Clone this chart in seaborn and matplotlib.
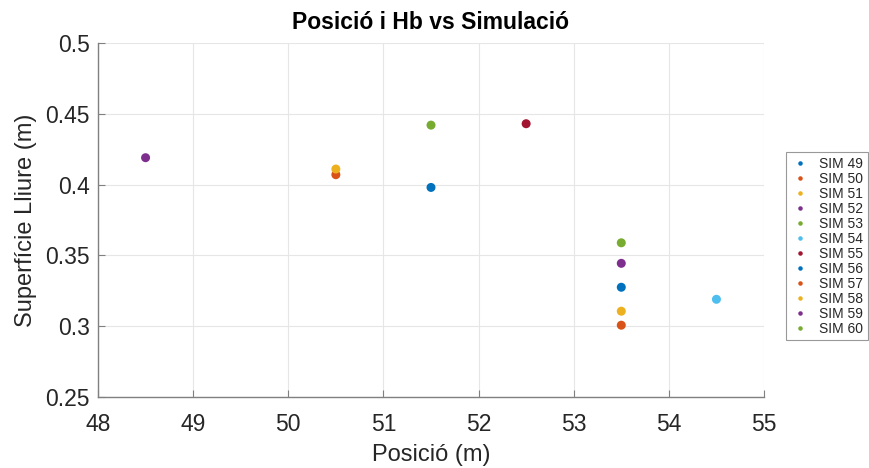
import pandas as pd
import matplotlib.pyplot as plt
import seaborn as sns

sims = ["SIM 49", "SIM 50", "SIM 51", "SIM 52", "SIM 53", "SIM 54",
        "SIM 55", "SIM 56", "SIM 57", "SIM 58", "SIM 59", "SIM 60"]
posicio = [51.5, 50.5, 50.5, 48.5, 51.5, 54.5, 52.5, 53.5, 53.5, 53.5, 53.5, 53.5]
superficie = [0.398, 0.407, 0.411, 0.419, 0.442, 0.319, 0.443,
              0.3275, 0.3007, 0.3106, 0.3444, 0.3589]

matlab_colors = ["#0072BD", "#D95319", "#EDB120", "#7E2F8E", "#77AC30", "#4DBEEE", "#A2142F"]
palette = {s: matlab_colors[i % 7] for i, s in enumerate(sims)}

df = pd.DataFrame({"sim": sims, "pos": posicio, "sup": superficie})

sns.set_style("white")
plt.rcParams['font.family'] = ['Liberation Sans', 'DejaVu Sans']

fig = plt.figure(figsize=(8.69, 4.68), dpi=100)
ax = fig.add_axes([98 / 869, 1 - 397 / 468, (764 - 98) / 869, (397 - 43) / 468])

sns.scatterplot(data=df, x="pos", y="sup", hue="sim", palette=palette,
                s=42, edgecolor="none", ax=ax, legend=True)

ax.set_xlim(48, 55)
ax.set_ylim(0.25, 0.5)
ax.set_xticks(range(48, 56))
ax.set_yticks([0.25, 0.3, 0.35, 0.4, 0.45, 0.5])
ax.set_yticklabels(["0.25", "0.3", "0.35", "0.4", "0.45", "0.5"])
ax.grid(True, color="#e6e6e6", linewidth=0.8)
ax.set_axisbelow(True)
for side in ["top", "right"]:
    ax.spines[side].set_visible(False)
for side in ["left", "bottom"]:
    ax.spines[side].set_color("#808080")
    ax.spines[side].set_linewidth(1.0)
ax.tick_params(direction="in", length=5, color="#808080", labelsize=16.5,
               labelcolor="#262626", bottom=True, left=True)
ax.tick_params(axis="x", pad=11.5)
ax.tick_params(axis="y", pad=6)

ax.set_xlabel("Posició (m)", fontsize=17, color="#262626", labelpad=6)
ax.set_ylabel("Superfície Lliure (m)", fontsize=17, color="#262626", labelpad=6)
ax.set_title("Posició i Hb vs Simulació", fontsize=16.5, fontweight="bold",
             color="black", pad=10)

leg = ax.legend(loc="upper left", bbox_to_anchor=(786 / 869, 1 - 152 / 468),
                bbox_transform=fig.transFigure, fontsize=10, markerscale=0.5,
                frameon=True, fancybox=False, edgecolor="#808080",
                handletextpad=0.7, labelspacing=0.07, borderpad=0.35,
                handlelength=1.3, borderaxespad=0)
leg.get_frame().set_linewidth(0.8)

fig.savefig("out.png", dpi=100)
